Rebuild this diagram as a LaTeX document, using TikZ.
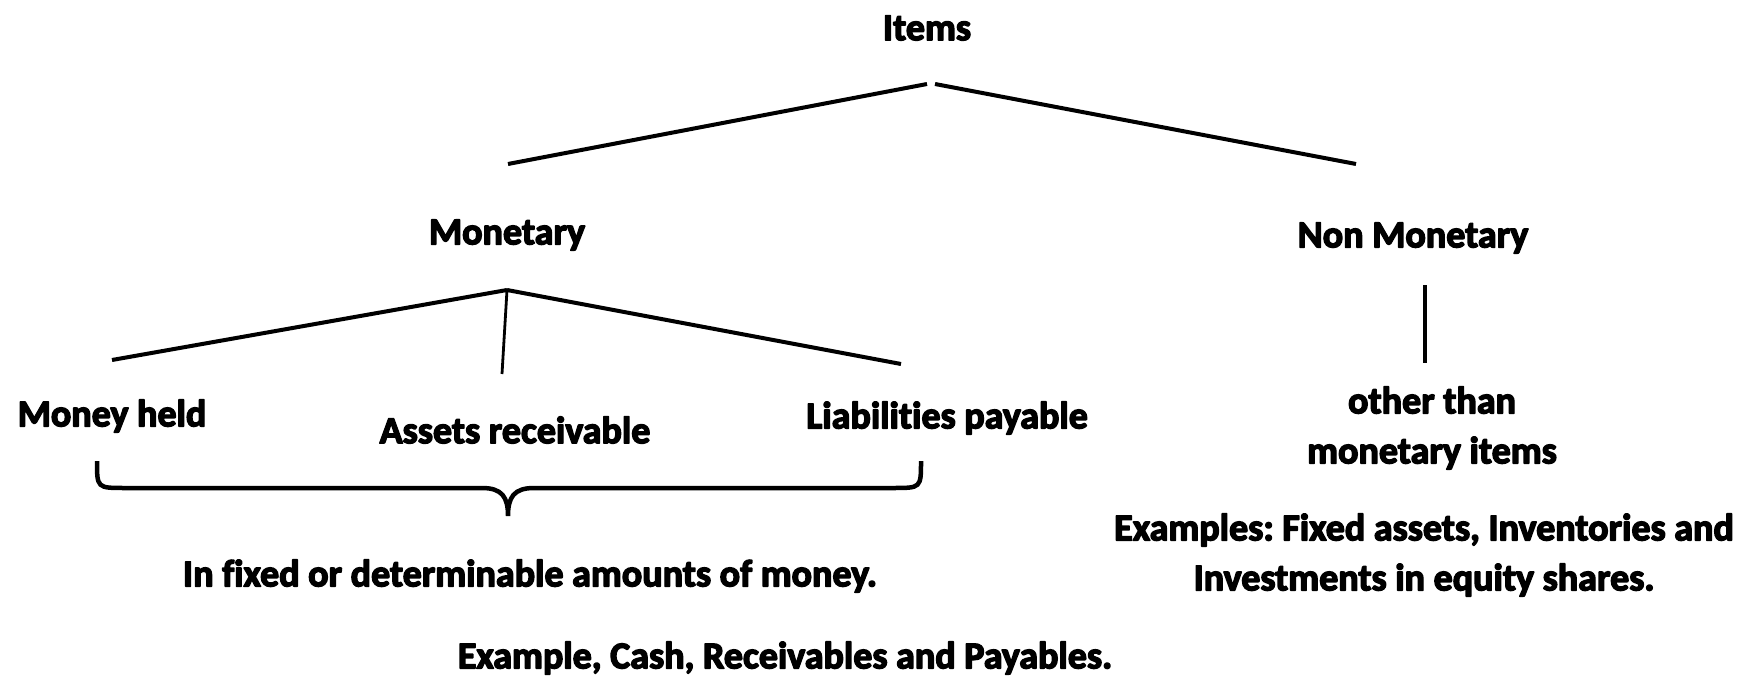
\documentclass[tikz,border=0pt]{standalone}
\usepackage{fontspec}
\newfontfamily\heavyfont{Carlito Bold}[Ligatures=NoCommon]
\frenchspacing
% stroke the glyph outlines as well as filling them, for a heavier type
\newcommand\heavyon{\special{pdf:literal 2 Tr 1.4 w 1 j}}
\newcommand\heavyoff{\special{pdf:literal 0 Tr}}
\begin{document}
\begin{tikzpicture}[x=1pt,y=-1pt,
  lbl/.style={inner sep=0pt,font=\fontsize{38}{46}\heavyfont,align=center,
    execute at begin node=\heavyon, execute at end node=\heavyoff},
  branch/.style={line width=4pt},
  thin branch/.style={line width=2.8pt}]
\useasboundingbox (0,0) rectangle (1750,679);
% labels
\node[lbl] (items) at (927,28) {Items};
\node[lbl] (mon) at (507,235) {Monetary};
\node[lbl] (nonmon) at (1413,238) {Non Monetary};
\node[lbl] (held) at (112,416) {Money held};
\node[lbl] (assets) at (515,430) {Assets receivable};
\node[lbl] (liab) at (947,418) {Liabilities payable};
\node[lbl] (other) at (1432,428) {other than\\[4pt]monetary items};
\node[lbl] (fixed) at (530,576) {In fixed or determinable amounts of money.};
\node[lbl] (cash) at (785,658) {Example, Cash, Receivables and Payables.};
\node[lbl] (examples) at (1424,555) {Examples: Fixed assets, Inventories and\\[4pt]Investments in equity shares.};
% branch end points
\coordinate (itemsL) at (927,84);
\coordinate (itemsR) at (935,84);
\coordinate (monTop) at (508,164);
\coordinate (nonTop) at (1356,164);
\coordinate (monApex) at (507,290);
\coordinate (heldTop) at (112,360);
\coordinate (assetsTop) at (502,374);
\coordinate (liabTop) at (901,364);
\coordinate (nonLow) at (1425,285);
\coordinate (otherTop) at (1425,363);
% connectors
\draw[branch] (itemsL) -- (monTop);
\draw[branch] (itemsR) -- (nonTop);
\draw[branch] (monApex) -- (heldTop);
\draw[thin branch] (monApex) -- (assetsTop);
\draw[branch] (monApex) -- (liabTop);
\draw[branch] (nonLow) -- (otherTop);
% brace under the monetary items
\draw[line width=4.5pt] (97,461) .. controls (97,488) and (97,488) .. (125,488)
  -- (482,488) .. controls (502,488) and (508,497) .. (508,516)
  .. controls (508,497) and (514,488) .. (534,488)
  -- (893,488) .. controls (921,488) and (921,488) .. (921,461);
\end{tikzpicture}
\end{document}
